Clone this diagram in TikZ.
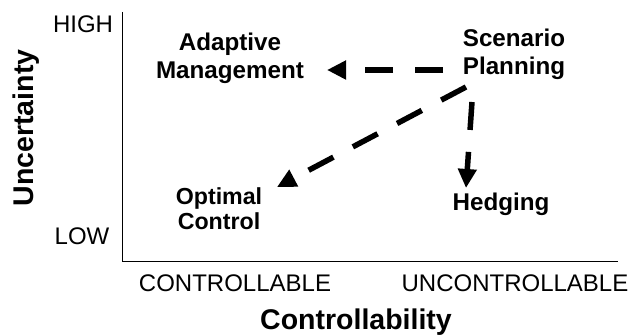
\documentclass[tikz,border=0pt]{standalone}
\usepackage{fontspec}
\setmainfont{Liberation Sans}
\usetikzlibrary{arrows.meta}
\begin{document}
\begin{tikzpicture}[x=1pt,y=-1pt,
  lbl/.style={inner sep=0pt,font=\fontsize{24}{27}\selectfont},
  blbl/.style={inner sep=0pt,align=center,font=\fontsize{24.2}{27.5}\selectfont\bfseries},
  axlbl/.style={inner sep=0pt,font=\fontsize{28.5}{32}\selectfont\bfseries},
  axisline/.style={line width=1pt},
  flow/.style={line width=5.5pt,dash pattern=on 28pt off 22pt,
    -{Triangle[length=19pt,width=18pt]}}]
\useasboundingbox (0,0) rectangle (633,336);
% axes
\coordinate (ytop) at (122,12);
\coordinate (orig) at (122,262);
\coordinate (xend) at (618,262);
\draw[axisline] (ytop) -- (orig) -- (xend);
% axis labels
\node[lbl,anchor=base] (hi) at (83,33) {HIGH};
\node[lbl,anchor=base] (lo) at (82,245) {LOW};
\node[lbl,anchor=base] (cl) at (235,292) {CONTROLLABLE};
\node[lbl,anchor=base] (uc) at (515,292) {UNCONTROLLABLE};
\node[axlbl,anchor=base] (xlab) at (356,330) {Controllability};
\node[axlbl,anchor=base,rotate=90] (ylab) at (33,128) {Uncertainty};
% strategy labels
\node[blbl,anchor=north] (am) at (230,33) {Adaptive\\Management};
\node[blbl,anchor=north] (sp) at (514,29) {Scenario\\Planning};
\node[blbl,anchor=north,font=\fontsize{23.2}{25.5}\selectfont\bfseries] (oc) at (219,187) {Optimal\\Control};
\node[blbl,anchor=base] (hd) at (501,211) {Hedging};
% connector end points
\coordinate (spW) at (443,70);
\coordinate (amE) at (327,70);
\coordinate (spSW) at (466,87);
\coordinate (ocNE) at (277,187);
\coordinate (spS) at (472,102);
\coordinate (hdN) at (466,188);
\draw[flow] (spW) -- (amE);
\draw[flow] (spSW) -- (ocNE);
\draw[flow] (spS) -- (hdN);
\end{tikzpicture}
\end{document}
